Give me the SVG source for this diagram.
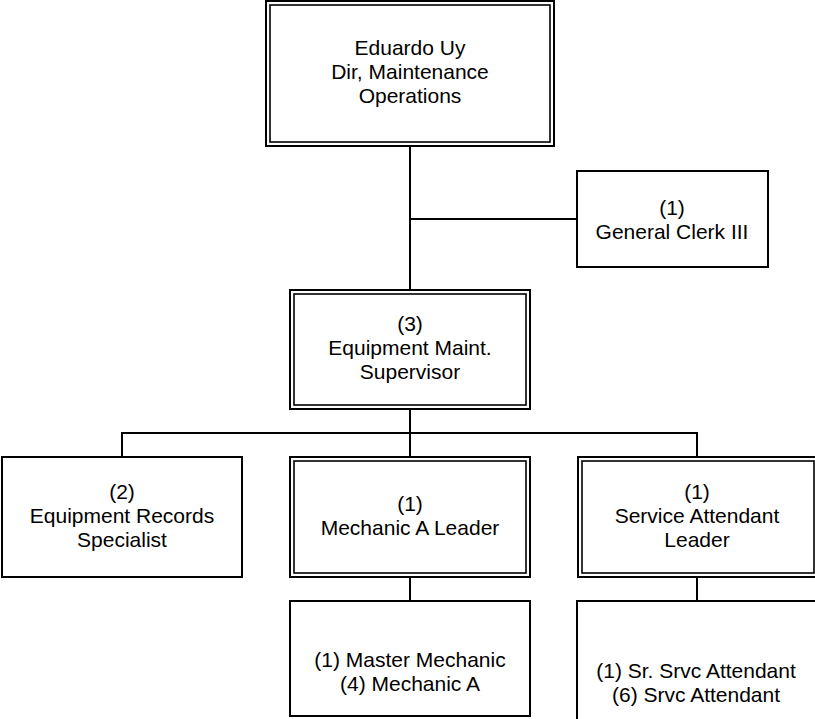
<svg xmlns="http://www.w3.org/2000/svg" width="815" height="719" viewBox="0 0 815 719">
<style>
.box{fill:#fff;stroke:#000;stroke-width:2}
.inner{fill:none;stroke:#000;stroke-width:1.6}
.conn line{stroke:#000;stroke-width:2}
text{font-family:"Liberation Sans",Arial,sans-serif;font-size:21px;fill:#000;text-anchor:middle}
</style>
<rect width="815" height="719" fill="#fff"/>
<g id="connectors" class="conn">
<line x1="410" y1="146" x2="410" y2="290"/>
<line x1="410" y1="219" x2="577" y2="219"/>
<line x1="410" y1="409" x2="410" y2="457"/>
<line x1="121" y1="433" x2="698" y2="433"/>
<line x1="122" y1="433" x2="122" y2="457"/>
<line x1="697" y1="433" x2="697" y2="457"/>
<line x1="410" y1="577" x2="410" y2="601"/>
<line x1="697" y1="577" x2="697" y2="601"/>
</g>
<g id="director">
<rect class="box" x="266" y="1" width="288" height="145"/>
<rect class="inner" x="270" y="5" width="280" height="137"/>
<text x="410" y="55">Eduardo Uy</text>
<text x="410" y="79">Dir, Maintenance</text>
<text x="410" y="103">Operations</text>
</g>
<g id="clerk">
<rect class="box" x="577" y="171" width="191" height="96"/>
<text x="672" y="215">(1)</text>
<text x="672" y="239">General Clerk III</text>
</g>
<g id="supervisor">
<rect class="box" x="290" y="290" width="240" height="119"/>
<rect class="inner" x="294" y="294" width="232" height="111"/>
<text x="410" y="331">(3)</text>
<text x="410" y="355">Equipment Maint.</text>
<text x="410" y="379">Supervisor</text>
</g>
<g id="records">
<rect class="box" x="2" y="457" width="240" height="120"/>
<text x="122" y="499">(2)</text>
<text x="122" y="523">Equipment Records</text>
<text x="122" y="547">Specialist</text>
</g>
<g id="mechanic-leader">
<rect class="box" x="290" y="457" width="240" height="120"/>
<rect class="inner" x="294" y="461" width="232" height="112"/>
<text x="410" y="511">(1)</text>
<text x="410" y="535">Mechanic A Leader</text>
</g>
<g id="service-leader">
<rect class="box" x="578" y="457" width="240" height="120"/>
<rect class="inner" x="582" y="461" width="232" height="112"/>
<text x="697" y="499">(1)</text>
<text x="697" y="523">Service Attendant</text>
<text x="697" y="547">Leader</text>
</g>
<g id="mechanics">
<rect class="box" x="290" y="601" width="240" height="115"/>
<text x="410" y="667">(1) Master Mechanic</text>
<text x="410" y="691">(4) Mechanic A</text>
</g>
<g id="attendants">
<rect class="box" x="577" y="601" width="240" height="130"/>
<text x="696" y="678">(1) Sr. Srvc Attendant</text>
<text x="696" y="702">(6) Srvc Attendant</text>
</g>
</svg>
